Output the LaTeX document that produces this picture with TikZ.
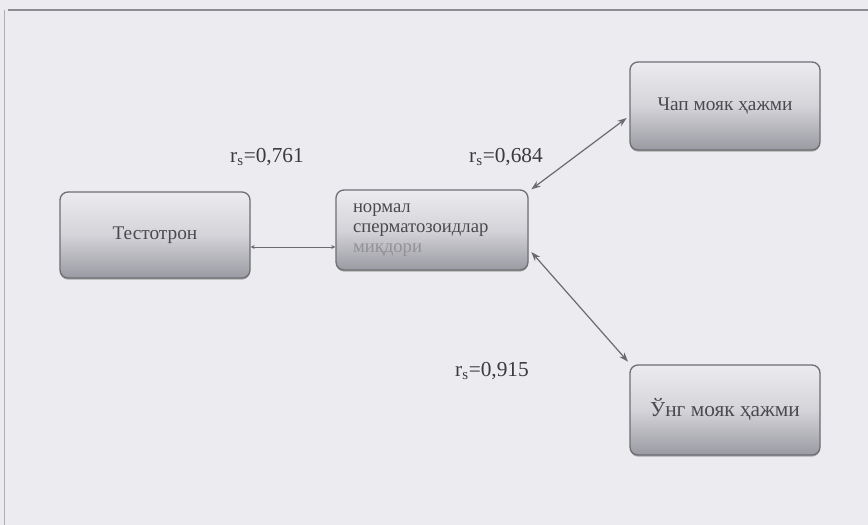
\documentclass[tikz,border=0pt]{standalone}
\usepackage{fontspec}
\setmainfont{Liberation Serif}
\usetikzlibrary{arrows.meta,shadows}
\definecolor{bg}{HTML}{ECECF0}
\definecolor{frameline}{HTML}{8C8C92}
\definecolor{boxedge}{HTML}{6E6E74}
\definecolor{boxtop}{HTML}{ECECF0}
\definecolor{boxbot}{HTML}{9A9AA2}
\definecolor{txt}{HTML}{4A4A4E}
\definecolor{conn}{HTML}{6A6A70}
\tikzset{
  gbox/.style={draw=boxedge, line width=1pt, rounded corners=6pt,
    top color=boxtop, bottom color=boxbot, middle color=boxtop!70!boxbot,
    minimum width=142.5pt, text=txt, font=\fontsize{14.5}{15}\selectfont,
    drop shadow={shadow xshift=0pt, shadow yshift=-1.2pt, fill=black!60, opacity=0.5}},
  rlab/.style={text=txt!80!black, font=\fontsize{16}{18}\selectfont},
  link/.style={draw=conn, line width=0.9pt},
  dbl/.style={link, {Stealth[length=7pt,width=5pt]}-{Stealth[length=7pt,width=5pt]}},
  sml/.style={link, line width=0.7pt, {Stealth[length=3pt,width=3pt]}-{Stealth[length=3pt,width=3pt]}}
}
\begin{document}
\begin{tikzpicture}[x=0.75pt,y=-0.75pt]
\useasboundingbox (0,0) rectangle (868,525);
\fill[bg] (0,0) rectangle (868,525);
\draw[frameline, line width=1.5pt] (8,10) -- (868,10);
\draw[frameline!70, line width=0.6pt] (4,10) -- (4,525);

\node[gbox, minimum height=64.5pt] (T) at (155,235) {Тестотрон};
\node[gbox, minimum width=144pt, minimum height=60pt, align=left, text width=118.5pt,
  font=\fontsize{14}{15}\selectfont] (N) at (432,230)
  {нормал\\сперматозоидлар\\\textcolor{txt!60}{миқдори}};
\node[gbox, minimum height=66pt] (C) at (725,106) {\raisebox{3pt}{Чап мояк ҳажми}};
\node[gbox, minimum height=67.5pt, font=\fontsize{16}{17}\selectfont] (U) at (725,410) {Ўнг мояк ҳажми};

\draw[sml] ([yshift=-9pt]T.east) -- ([yshift=-12.75pt]N.west);
\draw[dbl] ([xshift=2pt]N.north east) -- ([yshift=-9pt,xshift=-2pt]C.west);
\draw[dbl] ([yshift=-16.5pt,xshift=2pt]N.east) -- ([xshift=-1pt,yshift=2pt]U.north west);

\node[rlab] (L1) at (267,157) {r\textsubscript{s}=0,761};
\node[rlab] (L2) at (506,157) {r\textsubscript{s}=0,684};
\node[rlab] (L3) at (492,371) {r\textsubscript{s}=0,915};
\end{tikzpicture}
\end{document}
